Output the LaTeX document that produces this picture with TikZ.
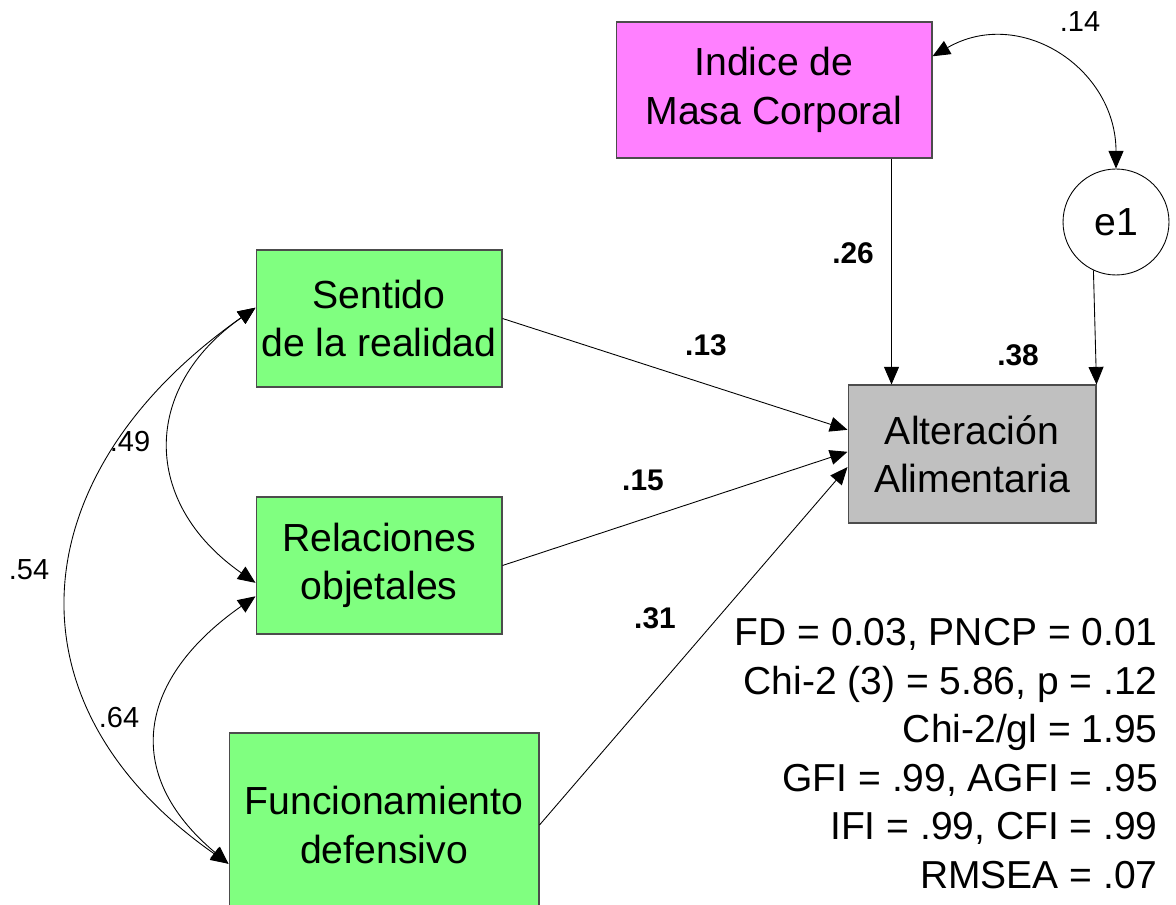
\documentclass[tikz,border=0pt]{standalone}
\usepackage{fontspec}
\setmainfont{Liberation Sans}
\usepackage{xcolor}
\usepackage{tikz}
\usetikzlibrary{arrows.meta, calc}

\definecolor{boxgreen}{HTML}{80FF80}
\definecolor{boxpink}{HTML}{FF80FF}
\definecolor{boxgray}{HTML}{C0C0C0}

\begin{document}
\begin{tikzpicture}[
    x=0.02cm, y=0.02cm,
    var/.style={draw=black!70,line width=0.6pt,align=center,inner sep=0pt,font=\fontsize{22.3pt}{27.5pt}\selectfont},
    effect/.style={line width=0.5pt,-{Triangle[length=10pt,width=8.5pt]}},
    corr/.style={line width=0.5pt,{Triangle[length=10pt,width=8.5pt]}-{Triangle[length=10pt,width=8.5pt]}},
    coef/.style={inner sep=0pt,font=\fontsize{17pt}{20pt}\selectfont\bfseries},
    cov/.style={inner sep=0pt,font=\fontsize{16.5pt}{20pt}\selectfont}
]

\useasboundingbox (0,0) rectangle (1176,-905);

% Variables
\node[var,fill=boxpink,minimum width=6.32cm,minimum height=2.72cm] (imc) at (774,-90) {Indice de\\Masa Corporal};
\node[var,fill=boxgreen,minimum width=4.92cm,minimum height=2.74cm] (sent) at (379,-318.5) {Sentido\\de la realidad};
\node[var,fill=boxgreen,minimum width=4.92cm,minimum height=2.74cm] (rel) at (379,-565.5) {Relaciones\\objetales};
\node[var,fill=boxgreen,minimum width=6.2cm,minimum height=3.68cm] (func) at (384,-825) {Funcionamiento\\defensivo};
\node[var,fill=boxgray,minimum width=4.96cm,minimum height=2.76cm] (alt) at (972,-454) {Alteración\\Alimentaria};
\node[draw,circle,line width=0.5pt,minimum size=2.12cm,inner sep=0pt,font=\fontsize{22.3pt}{27.5pt}\selectfont] (e1) at (1116,-222) {e1};

% Paths
\draw[effect] (sent.east) -- (alt.169);
\draw[effect] (rel.east) -- (alt.179);
\draw[effect] (func.east) -- (alt.186);
\draw[effect] ([xshift=-0.82cm]imc.south east) -- ([xshift=-0.82cm]imc.south east |- alt.north);
\draw[effect] (e1.245) -- (alt.north east);

% Covariances
\draw[corr] (imc.12) to[out=30,in=90,looseness=1.2] (e1.north);
\draw[corr] (sent.175) to[out=215,in=145,looseness=1.3] (rel.188);
\draw[corr] (sent.175) to[out=215,in=145,looseness=1.3] (func.194);
\draw[corr] (rel.194) to[out=215,in=140,looseness=1.35] (func.194);

% Coefficients
\node[coef] (c13) at (706,-345) {.13};
\node[coef] (c15) at (643,-480) {.15};
\node[coef] (c31) at (655,-618) {.31};
\node[coef] (c26) at (853,-253) {.26};
\node[coef] (c38) at (1018,-355) {.38};
\node[cov] (r14) at (1080,-22) {.14};
\node[cov] (r49) at (130,-442) {.49};
\node[cov] (r54) at (29,-570) {.54};
\node[cov] (r64) at (119,-718) {.64};

% Fit indices
\node[align=right,anchor=north east,inner sep=0pt,font=\fontsize{22.2pt}{27.6pt}\selectfont] (fit) at (1158,-618)
    {FD = 0.03, PNCP = 0.01\\Chi-2 (3) = 5.86, p = .12\\Chi-2/gl = 1.95\\GFI = .99, AGFI = .95\\IFI = .99, CFI = .99\\RMSEA = .07};

\end{tikzpicture}
\end{document}
